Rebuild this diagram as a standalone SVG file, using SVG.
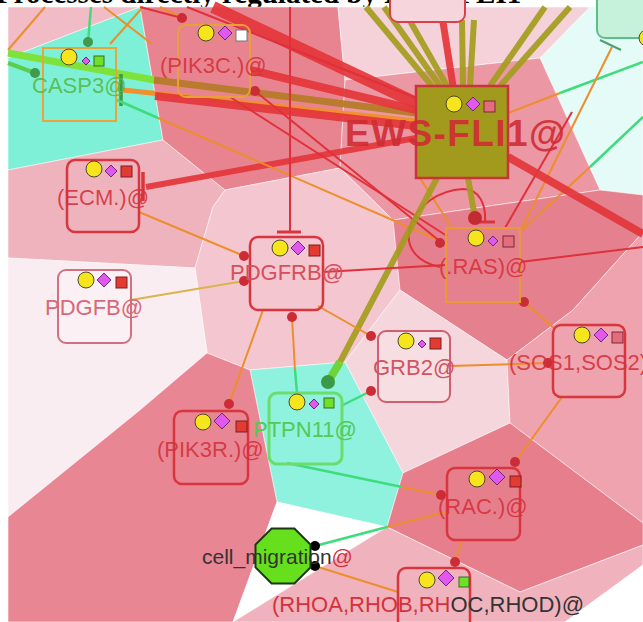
<svg xmlns="http://www.w3.org/2000/svg" width="643" height="622" viewBox="0 0 643 622">
<defs>
<style>
.reg{stroke:#ffffff;stroke-opacity:.55;stroke-width:1}
.lbl{font-family:"Liberation Sans",Arial,sans-serif;font-size:22px}
.red{fill:#d5313a;fill-opacity:.9}
.nb{fill:none;stroke:#d8363e;stroke-width:2.5}
.yc{fill:#f6e51c;stroke:#4a4a2a;stroke-width:1}
.md{fill:#e058ee;stroke:#6a2a7a;stroke-width:1}
.rs{fill:#e33a32;stroke:#7a2020;stroke-width:1}
.ps{fill:#e46c7c;stroke:#7a2a35;stroke-width:1}
.gs{fill:#6ee02a;stroke:#3a6a20;stroke-width:1}
.on{stroke:#ec8e2c;stroke-width:2;fill:none}
.gn{stroke:#3fdc7c;stroke-width:2.5;fill:none}
.rn{stroke:#e0303a;stroke-width:2;fill:none}
.rt{stroke:#e3363a;stroke-opacity:.92;fill:none}
.ot{stroke:#a39c1e;stroke-opacity:.92;stroke-width:6;fill:none}
.rd{fill:#cc2c36}
.gd{fill:#3f9a4c}
</style>
</defs>
<rect width="643" height="622" fill="#ffffff"/>
<text x="-4" y="3" font-family="Liberation Serif, serif" font-weight="bold" font-size="29" fill="#000">Processes directly regulated by EWS-FLI1</text>
<g id="regions">
<rect x="8" y="7" width="635" height="615" fill="#f4c6ce"/>
<polygon class="reg" points="8,7 140,7 8,58" fill="#f1bcc5"/>
<polygon class="reg" points="8,58 140,7 163,140 8,170" fill="#7ef0d7"/>
<polygon class="reg" points="8,170 163,140 225,190 213,207 195,268 8,258" fill="#efb3bd"/>
<polygon class="reg" points="140,7 338,7 345,80 340,168 225,190 163,140" fill="#e8848f"/>
<polygon class="reg" points="338,7 590,7 540,58 345,80" fill="#f5d2d9"/>
<polygon class="reg" points="590,7 643,7 643,195 600,190 540,58" fill="#e4fbf7"/>
<polygon class="reg" points="345,80 540,58 600,190 393,220 340,168" fill="#eb97a4"/>
<polygon class="reg" points="225,190 340,168 393,220 400,290 345,362 250,370 207,353 195,268 213,207" fill="#f4c6cf"/>
<polygon class="reg" points="8,258 195,268 207,353 140,410 8,517" fill="#faedf2"/>
<polygon class="reg" points="393,220 600,190 643,195 643,232 573,310 507,360 400,290" fill="#e5808e"/>
<polygon class="reg" points="400,290 507,360 510,423 403,473 345,362" fill="#f5d6dd"/>
<polygon class="reg" points="507,360 573,310 643,232 643,523 510,423" fill="#eea3ae"/>
<polygon class="reg" points="250,370 345,362 403,473 387,527 277,502" fill="#8ff2df"/>
<polygon class="reg" points="8,517 140,410 207,353 250,370 277,502 233,622 8,622" fill="#e98694"/>
<polygon class="reg" points="277,502 387,527 233,622" fill="#ffffff"/>
<polygon class="reg" points="403,473 510,423 643,523 643,545 520,592 387,527" fill="#e67e8c"/>
<polygon class="reg" points="387,527 520,592 643,545 643,565 565,622 233,622" fill="#f0b3be"/>
<polygon class="reg" points="565,622 643,565 643,622" fill="#ffffff"/>
</g>
<g id="connectors">
<line class="on" x1="45" y1="7" x2="8" y2="50"/>
<line class="on" x1="104" y1="7" x2="152" y2="44"/>
<line class="on" x1="110" y1="44" x2="143" y2="7"/>
<line class="on" x1="160" y1="7" x2="182" y2="18"/>
<line class="rn" x1="140" y1="7" x2="182" y2="18"/>
<line class="gn" x1="88" y1="42" x2="91" y2="7"/>
<line x1="8" y1="63" x2="35" y2="73" stroke="#5ccc4c" stroke-width="4"/>
<line x1="8" y1="53" x2="154" y2="80" stroke="#7fe23a" stroke-width="7"/>
<line x1="154" y1="80" x2="416" y2="113" stroke="#b47a22" stroke-width="7" stroke-opacity=".9"/>
<line x1="123" y1="90" x2="416" y2="121" stroke="#f0902e" stroke-width="5"/>
<line class="rt" x1="155" y1="96" x2="416" y2="126" stroke-width="8"/>
<line class="rt" x1="250" y1="70" x2="416" y2="110" stroke-width="8"/>
<line class="rt" x1="213" y1="7" x2="416" y2="103" stroke-width="12"/>
<line class="rn" x1="187" y1="7" x2="416" y2="98"/>
<line class="rt" x1="146" y1="187" x2="416" y2="138" stroke-width="6"/>
<line x1="143" y1="172" x2="143" y2="201" stroke="#d8363e" stroke-width="3.5"/>
<line x1="121" y1="74" x2="121" y2="106" stroke="#3f9a3c" stroke-width="3.5"/>
<line class="ot" x1="366" y1="7" x2="432" y2="86"/>
<line class="ot" x1="384" y1="7" x2="440" y2="86"/>
<line class="ot" x1="402" y1="7" x2="447" y2="86"/>
<line class="ot" x1="462" y1="20" x2="463" y2="86"/>
<line class="ot" x1="474" y1="20" x2="470" y2="86"/>
<line class="ot" x1="545" y1="7" x2="490" y2="86" stroke-width="7"/>
<line class="ot" x1="570" y1="7" x2="500" y2="86" stroke-width="7"/>
<line class="rt" x1="443" y1="22" x2="453" y2="86" stroke-width="7"/>
<line class="gn" x1="643" y1="62" x2="560" y2="93"/>
<line class="on" x1="560" y1="93" x2="508" y2="113"/>
<line class="on" x1="612" y1="47" x2="522" y2="228"/>
<line class="gn" x1="643" y1="117" x2="590" y2="167"/>
<line class="on" x1="590" y1="167" x2="522" y2="230"/>
<line class="rn" x1="572" y1="112" x2="505" y2="228"/>
<line class="rt" x1="508" y1="157" x2="643" y2="234" stroke-width="8"/>
<line x1="600" y1="40" x2="621" y2="50" stroke="#4aa070" stroke-width="2"/>
<line class="gn" x1="117" y1="100" x2="158" y2="118"/>
<line class="on" x1="158" y1="118" x2="443" y2="242"/>
<line class="rn" x1="255" y1="91" x2="442" y2="243"/>
<line class="rn" x1="230" y1="97" x2="447" y2="236"/>
<line class="on" x1="420" y1="178" x2="452" y2="228"/>
<path class="rn" d="M440,267 C415,262 405,245 410,228 C416,205 440,190 463,189 C480,189 486,205 485,222"/>
<line x1="476" y1="222" x2="495" y2="222" stroke="#d8363e" stroke-width="3"/>
<line class="ot" x1="468" y1="178" x2="475" y2="218"/>
<line class="ot" x1="437" y1="178" x2="340" y2="362" stroke-width="7"/>
<line x1="340" y1="362" x2="328" y2="382" stroke="#6ed43a" stroke-width="8"/>
<line class="rn" x1="323" y1="272" x2="446" y2="265" stroke-width="2.5"/>
<line class="rn" x1="520" y1="262" x2="643" y2="247" stroke-width="2.5"/>
<line class="rn" x1="290" y1="7" x2="290" y2="232"/>
<line x1="277" y1="232" x2="301" y2="232" stroke="#d8363e" stroke-width="3"/>
<line class="on" x1="139" y1="212" x2="244" y2="256"/>
<line x1="131" y1="300" x2="244" y2="281" stroke="#d9b44c" stroke-width="2"/>
<line class="on" x1="263" y1="310" x2="229" y2="404"/>
<line class="on" x1="292" y1="317" x2="295" y2="370"/>
<line class="gn" x1="295" y1="370" x2="297" y2="393"/>
<line class="on" x1="318" y1="306" x2="371" y2="336"/>
<line class="on" x1="450" y1="366" x2="548" y2="363"/>
<line class="on" x1="524" y1="302" x2="554" y2="328"/>
<line class="on" x1="562" y1="397" x2="515" y2="462"/>
<line class="on" x1="462" y1="540" x2="455" y2="562"/>
<line class="gn" x1="343" y1="405" x2="371" y2="391"/>
<line class="gn" x1="287" y1="463" x2="402" y2="487" stroke-width="3"/>
<line class="on" x1="402" y1="487" x2="441" y2="495"/>
<line class="gn" x1="315" y1="546" x2="387" y2="527"/>
<line class="on" x1="387" y1="527" x2="445" y2="512"/>
<line class="on" x1="315" y1="566" x2="398" y2="592"/>
<circle class="gd" cx="88" cy="42" r="5"/>
<circle class="gd" cx="35" cy="73" r="5"/>
<circle class="rd" cx="182" cy="18" r="5"/>
<circle class="rd" cx="255" cy="91" r="5"/>
<circle class="rd" cx="244" cy="256" r="5"/>
<circle class="rd" cx="244" cy="281" r="5"/>
<circle class="rd" cx="292" cy="317" r="5"/>
<circle class="rd" cx="371" cy="336" r="5"/>
<circle class="rd" cx="371" cy="391" r="5"/>
<circle class="rd" cx="548" cy="363" r="5"/>
<circle class="rd" cx="524" cy="302" r="5"/>
<circle class="rd" cx="440" cy="243" r="5"/>
<circle class="rd" cx="229" cy="404" r="5"/>
<circle class="rd" cx="515" cy="462" r="5"/>
<circle class="rd" cx="441" cy="495" r="5"/>
<circle class="rd" cx="455" cy="562" r="5"/>
<circle cx="475" cy="218" r="7" fill="#c42a32"/>
<circle cx="328" cy="382" r="7" fill="#3a9a48"/>
<circle cx="315" cy="546" r="5" fill="#000"/>
<circle cx="315" cy="566" r="5" fill="#000"/>
</g>
<g id="node-top">
<rect x="390" y="-20" width="75" height="42" rx="8" fill="#f6d6dc" stroke="#d8404a" stroke-width="2"/>
</g>
<g id="node-topright">
<rect x="597" y="-20" width="70" height="58" rx="8" fill="#c6f2dc" stroke="#5cbf8a" stroke-width="2"/>
<circle class="yc" cx="647" cy="38" r="8"/>
</g>
<g id="CASP3">
<rect x="43" y="48" width="73" height="73" fill="none" stroke="#e9a43a" stroke-width="2"/>
<circle class="yc" cx="69" cy="57" r="8"/>
<polygon class="md" points="86,57 90,61 86,65 82,61"/>
<rect class="gs" x="94" y="56" width="10" height="10"/>
<text class="lbl" x="32" y="93" fill="#58b848" fill-opacity=".9">CASP3@</text>
</g>
<g id="PIK3C">
<rect x="178" y="25" width="72" height="72" rx="8" fill="none" stroke="#e8a03a" stroke-width="2"/>
<circle class="yc" cx="206" cy="33" r="8"/>
<polygon class="md" points="225,26 232,33 225,40 218,33"/>
<rect x="236" y="30" width="11" height="11" fill="#fff" stroke="#777" stroke-width="1"/>
<text class="lbl red" x="160" y="73">(PIK3C.)@</text>
</g>
<g id="ECM">
<rect class="nb" x="67" y="160" width="72" height="72" rx="8"/>
<circle class="yc" cx="94" cy="169" r="8"/>
<polygon class="md" points="111,165 117,171 111,177 105,171"/>
<rect class="rs" x="121" y="166" width="11" height="11"/>
<text class="lbl red" x="57" y="205">(ECM.)@</text>
</g>
<g id="PDGFB">
<rect x="58" y="270" width="73" height="73" rx="8" fill="#fbf0f4" stroke="#d07080" stroke-width="2"/>
<circle class="yc" cx="86" cy="280" r="8"/>
<polygon class="md" points="104,273 111,280 104,287 97,280"/>
<rect class="rs" x="116" y="277" width="11" height="11"/>
<text class="lbl" x="45" y="315" fill="#d86878">PDGFB@</text>
</g>
<g id="PDGFRB">
<rect class="nb" x="250" y="237" width="73" height="73" rx="8"/>
<circle class="yc" cx="280" cy="248" r="8"/>
<polygon class="md" points="298,241 305,248 298,255 291,248"/>
<rect class="rs" x="309" y="245" width="11" height="11"/>
<text class="lbl" x="230" y="280" fill="#d5505c">PDGFRB@</text>
</g>
<g id="GRB2">
<rect x="378" y="331" width="72" height="71" rx="8" fill="#f8e2e7" fill-opacity=".6" stroke="#d06070" stroke-width="2"/>
<circle class="yc" cx="406" cy="341" r="8"/>
<polygon class="md" points="422,340 426,344 422,348 418,344"/>
<rect class="rs" x="430" y="338" width="11" height="11"/>
<text class="lbl" x="373" y="375" fill="#d05462">GRB2@</text>
</g>
<g id="RAS">
<rect x="446" y="228" width="74" height="74" fill="none" stroke="#e89a38" stroke-width="2"/>
<circle class="yc" cx="476" cy="238" r="8"/>
<polygon class="md" points="493,236 498,241 493,246 488,241"/>
<rect class="ps" x="503" y="236" width="11" height="11"/>
<text class="lbl red" x="439" y="274">(.RAS)@</text>
</g>
<g id="SOS">
<rect class="nb" x="553" y="325" width="72" height="72" rx="8"/>
<circle class="yc" cx="582" cy="335" r="8"/>
<polygon class="md" points="601,328 608,335 601,342 594,335"/>
<rect class="ps" x="612" y="332" width="11" height="11"/>
<text class="lbl red" x="509" y="370">(SOS1,SOS2)@</text>
</g>
<g id="PTPN11">
<rect x="269" y="393" width="73" height="71" rx="8" fill="none" stroke="#6cdc6c" stroke-width="3"/>
<circle class="yc" cx="297" cy="402" r="8"/>
<polygon class="md" points="314,399 319,404 314,409 309,404"/>
<rect class="gs" x="324" y="398" width="10" height="10"/>
<text class="lbl" x="253" y="437" fill="#55c855">PTPN11@</text>
</g>
<g id="PIK3R">
<rect class="nb" x="174" y="411" width="74" height="73" rx="8"/>
<circle class="yc" cx="203" cy="422" r="8"/>
<polygon class="md" points="222,413 230,421 222,429 214,421"/>
<rect class="rs" x="236" y="421" width="11" height="11"/>
<text class="lbl red" x="157" y="457">(PIK3R.)@</text>
</g>
<g id="RAC">
<rect class="nb" x="447" y="468" width="73" height="72" rx="8"/>
<circle class="yc" cx="477" cy="479" r="8"/>
<polygon class="md" points="497,469 505,477 497,485 489,477"/>
<rect class="rs" x="510" y="476" width="11" height="11"/>
<text class="lbl red" x="438" y="514">(RAC.)@</text>
</g>
<g id="RHOA">
<rect class="nb" x="398" y="568" width="72" height="72" rx="8"/>
<circle class="yc" cx="427" cy="580" r="8"/>
<polygon class="md" points="446,570 454,578 446,586 438,578"/>
<rect class="gs" x="459" y="577" width="10" height="10"/>
<text class="lbl" x="272" y="612"><tspan fill="#d5313a">(RHOA,RHOB,RH</tspan><tspan fill="#333333">OC,RHOD)@</tspan></text>
</g>
<g id="cell_migration">
<polygon points="271.6,528.5 294.4,528.5 310.5,544.6 310.5,567.4 294.4,583.5 271.6,583.5 255.5,567.4 255.5,544.6" fill="#66e01c" stroke="#1d3510" stroke-width="2"/>
<text x="202" y="564" font-family="Liberation Sans, Arial, sans-serif" font-size="21" fill="#333333">cell_migration<tspan fill="#d5313a">@</tspan></text>
</g>
<g id="EWS-FLI1">
<rect x="416" y="86" width="92" height="92" fill="#a29a1c" stroke="#c8343a" stroke-width="2.5"/>
<circle class="yc" cx="454" cy="104" r="8"/>
<polygon class="md" points="473,97 480,104 473,111 466,104"/>
<rect class="ps" x="484" y="101" width="11" height="11"/>
<text x="345" y="146" font-family="Liberation Sans, Arial, sans-serif" font-weight="bold" font-size="37" textLength="220" fill="#d02c34" fill-opacity=".92">EWS-FLI1@</text>
</g>
</svg>
